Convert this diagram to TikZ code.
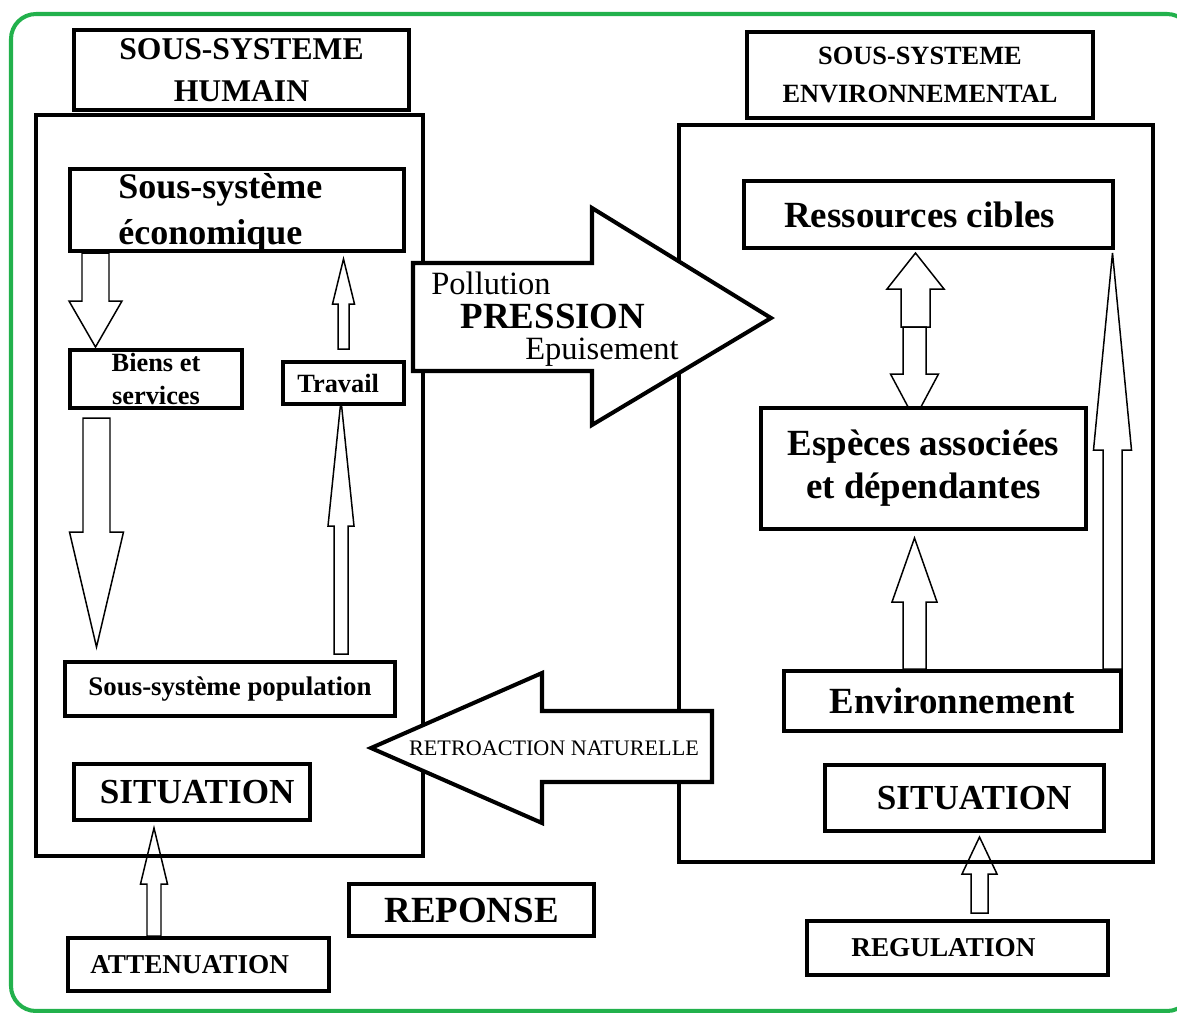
\documentclass[tikz,border=0pt]{standalone}
\usepackage{fontspec}
\setmainfont{Liberation Serif}
\definecolor{frameg}{RGB}{34,177,76}
\newcommand{\fsz}[2]{\fontsize{#1}{#2}\selectfont}
\newcommand{\vblock}[6]{\draw[blk] ({#1-#4},#2) -- ({#1-#4},#6) -- ({#1-#5},#6) -- (#1,#3) -- ({#1+#5},#6) -- ({#1+#4},#6) -- ({#1+#4},#2) -- cycle;}
\tikzset{
 box/.style={draw, line width=2.3pt, fill=white, inner sep=0pt, align=center},
 outerbox/.style={draw, line width=2.3pt, inner sep=0pt},
 blk/.style={draw, line width=0.85pt, line join=miter},
 bigarr/.style={draw, line width=2.3pt, fill=white, line join=miter},
 lbl/.style={inner sep=0pt, align=center},
}
\begin{document}
\begin{tikzpicture}[x=0.02cm, y=-0.02cm]
\useasboundingbox (0,0) rectangle (1177,1012);
\begin{scope}
\clip (0,0) rectangle (1177,1012);
\draw[frameg, line width=2.3pt, rounded corners=0.5cm] (11,14) rectangle (1192,1011);
\end{scope}

% outer system boxes
\node[outerbox, minimum width=7.74cm, minimum height=14.82cm] (hum) at (229.5,485.5) {};
\node[outerbox, minimum width=9.48cm, minimum height=14.74cm] (env) at (916,493.5) {};

% headers
\node[box, minimum width=6.70cm, minimum height=1.60cm, font=\bfseries\fsz{18}{24}] (hh) at (241.5,70) {SOUS-SYSTEME\\HUMAIN};
\node[box, minimum width=6.92cm, minimum height=1.72cm, font=\bfseries\fsz{15}{21.5}] (eh) at (920,75) {SOUS-SYSTEME\\ENVIRONNEMENTAL};

% small block arrows
\vblock{95.5}{253}{347}{13.5}{26.5}{301}
\vblock{343.5}{349}{259}{5.5}{11}{304}
\vblock{96.5}{418}{647}{13.5}{27}{532}
\vblock{341}{654}{400}{7}{13}{526}
\vblock{154}{936}{828}{7}{13.5}{884}
\vblock{914.5}{669}{538}{11.5}{22.5}{602}
\vblock{1112.5}{669}{253}{9.5}{19}{450}
\vblock{915.5}{327}{253}{14.5}{28.5}{289}
\vblock{914.5}{327}{419}{11.5}{24}{374}
\vblock{979.5}{913}{837}{8.5}{17.5}{874}

% inner boxes, human side
\node[box, minimum width=6.68cm, minimum height=1.64cm] (eco) at (237,210) {};
\node[lbl, anchor=west, align=left, font=\bfseries\fsz{20.5}{26}] (ecot) at (118,213) {Sous-système\\économique};
\node[box, minimum width=3.44cm, minimum height=1.16cm, font=\bfseries\fsz{15}{18.7}] (bs) at (156,379) {Biens et\\services};
\node[box, minimum width=2.42cm, minimum height=0.84cm, font=\bfseries\fsz{15}{18}] (trav) at (343.5,383) {Travail\hspace*{6pt}};
\node[box, minimum width=6.6cm, minimum height=1.08cm, font=\bfseries\fsz{15.3}{18}] (pop) at (230,689) {Sous-système population};
\node[box, minimum width=4.72cm, minimum height=1.12cm, font=\bfseries\fsz{20}{24}] (sitl) at (192,792) {\hspace*{6pt}SITUATION};
\node[box, minimum width=5.22cm, minimum height=1.06cm, font=\bfseries\fsz{15.5}{18}] (att) at (198.5,964.5) {ATTENUATION\hspace*{10pt}};
\node[box, minimum width=4.9cm, minimum height=1.04cm, font=\bfseries\fsz{21}{24}] (rep) at (471.5,910) {REPONSE};

% inner boxes, environmental side
\node[box, minimum width=7.38cm, minimum height=1.34cm, font=\bfseries\fsz{21}{24}] (res) at (928.5,214.5) {Ressources cibles\hspace*{10pt}};
\node[box, minimum width=6.5cm, minimum height=2.42cm, font=\bfseries\fsz{21}{24.4}] (esp) at (923.5,468.5) {Espèces associées\\et dépendantes};
\node[box, minimum width=6.74cm, minimum height=1.2cm, font=\bfseries\fsz{21}{24}] (envi) at (952.5,701) {Environnement};
\node[box, minimum width=5.58cm, minimum height=1.32cm, font=\bfseries\fsz{20}{24}] (sitr) at (964.5,798) {\hspace*{11pt}SITUATION};
\node[box, minimum width=6.02cm, minimum height=1.08cm, font=\bfseries\fsz{15.5}{18}] (reg) at (957.5,948) {REGULATION\hspace*{16pt}};

% big arrows
\draw[bigarr] (413,263) -- (592,263) -- (592,208) -- (771,318) -- (592,425) -- (592,371) -- (413,371) -- cycle;
\draw[bigarr] (712,711) -- (542,711) -- (542,673) -- (371,748) -- (542,823) -- (542,782) -- (712,782) -- cycle;
\node[lbl, font=\fsz{18.5}{22}] (poll) at (491,283) {Pollution};
\node[lbl, font=\bfseries\fsz{21}{25}] (press) at (553,316) {PRESSION};
\node[lbl, font=\fsz{18.5}{22}] (epu) at (602,352) {Epuisement};
\node[lbl, font=\fsz{12.6}{15}] (retro) at (554,748) {RETROACTION NATURELLE};
\end{tikzpicture}
\end{document}
